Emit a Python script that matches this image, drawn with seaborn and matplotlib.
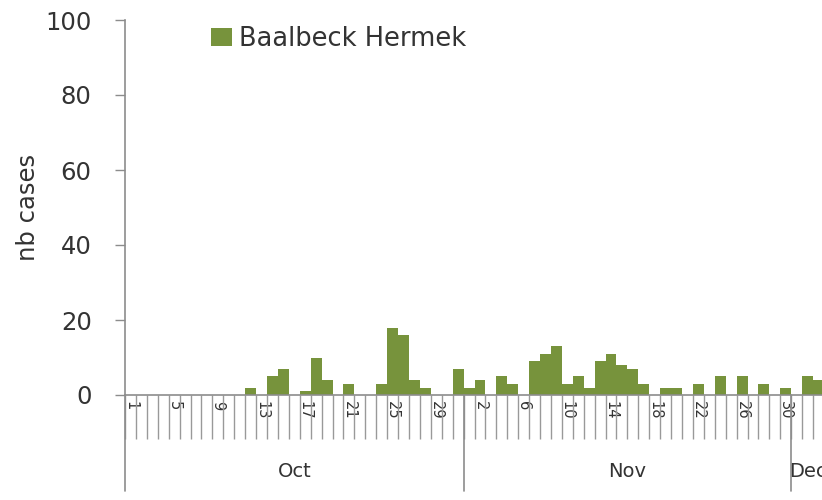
import numpy as np
import pandas as pd
import matplotlib
matplotlib.use('Agg')
import matplotlib.pyplot as plt
import matplotlib.transforms as mtransforms
import seaborn as sns

# Daily case counts
months = ['Oct', 'Nov', 'Dec']
oct_cases = [0, 0, 0, 0, 0, 0, 0, 0, 0, 0, 0, 2, 0, 5, 7, 0, 1, 10, 4, 0,
             3, 0, 0, 3, 18, 16, 4, 2, 0, 0, 7]
nov_cases = [2, 4, 0, 5, 3, 0, 9, 11, 13, 3, 5, 2, 9, 11, 8, 7, 3, 0, 2, 2,
             0, 3, 0, 5, 0, 5, 0, 3, 0, 2]
dec_cases = [0, 5, 4]
series_name = 'Baalbeck Hermek'
y_ticks = [0, 20, 40, 60, 80, 100]

month_values = [oct_cases, nov_cases, dec_cases]
rows = []
for m, vals in zip(months, month_values):
    for d, v in enumerate(vals, start=1):
        rows.append({'date': f'{m} {d}', 'month': m, 'day': d, 'cases': v})
df = pd.DataFrame(rows)

sns.set_theme(style='white')
plt.rcParams['font.family'] = ['DejaVu Sans']

bar_color = '#77933c'
text_color = '#333333'
line_color = '#8c8c8c'

fig = plt.figure(figsize=(8.22, 5), dpi=100)
ax = fig.add_axes([125 / 822, 105 / 500, 699 / 822, 375 / 500])

sns.barplot(data=df, x='date', y='cases', color=bar_color, saturation=1,
            width=1.0, linewidth=0, label=series_name, ax=ax)

n = len(df)
ax.set_xlim(-0.5, n - 0.5)
ax.set_ylim(0, 100)
ax.set_yticks(y_ticks)
ax.tick_params(axis='y', direction='out', length=7, width=1, color=line_color,
               pad=17, labelsize=17.5, labelcolor=text_color, left=True)
ax.set_ylabel('nb cases', fontsize=17.5, color=text_color)
ax.yaxis.set_label_coords(-0.122, 0.5)

# day labels every 4 categories
label_idx = np.arange(0, n, 4)
ax.set_xticks(label_idx)
ax.set_xticklabels(df['day'].iloc[label_idx].astype(str), rotation=-90,
                   fontsize=10.5, color=text_color)
ax.tick_params(axis='x', length=0, pad=4)
ax.set_xlabel('')

# category separators
ax.set_xticks(np.arange(-0.5, n, 1), minor=True)
ax.tick_params(axis='x', which='minor', direction='out', length=32,
               width=1, color='#999999', bottom=True)

for s in ['top', 'right']:
    ax.spines[s].set_visible(False)
for s in ['left', 'bottom']:
    ax.spines[s].set_color(line_color)
    ax.spines[s].set_linewidth(1.2)

# month level of the axis
trans = mtransforms.blended_transform_factory(ax.transData, ax.transAxes)
sizes = [len(v) for v in month_values]
edges = np.concatenate([[0], np.cumsum(sizes)]) - 0.5
for e in edges[:-1]:
    ax.plot([e, e], [0, -0.255], transform=trans, color=line_color,
            lw=1.2, clip_on=False)
for m, a, b in zip(months, edges[:-1], edges[1:]):
    ax.text((a + b) / 2, -0.205, m, transform=trans, ha='center',
            va='center', fontsize=14, color=text_color)

ax.legend(loc='upper left', bbox_to_anchor=(0.09, 1.045), frameon=False,
          fontsize=18.5, handlelength=0.8, handleheight=0.7,
          handletextpad=0.3, labelcolor=text_color)

plt.savefig('out.png', dpi=100)
